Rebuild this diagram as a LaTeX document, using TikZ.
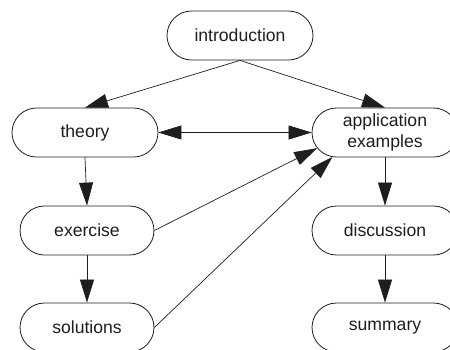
\documentclass[tikz,border=0pt]{standalone}
\usepackage{fontspec}
\setmainfont{Liberation Sans}
\usetikzlibrary{shapes.misc,arrows.meta}
\definecolor{ink}{HTML}{1E1E1E}
\tikzset{
  box/.style={rounded rectangle, draw=ink, line width=0.8pt, inner sep=0pt,
    minimum width=146pt, minimum height=49pt, text=ink, align=center,
    font=\fontsize{17.6pt}{21pt}\selectfont},
  narrowbox/.style={box, minimum width=134pt},
  link/.style={draw=ink, line width=0.7pt, -{Triangle[length=23pt,width=14pt]}},
  both/.style={link, {Triangle[length=23pt,width=14pt]}-{Triangle[length=23pt,width=14pt]}}
}
\begin{document}
\begin{tikzpicture}[x=1pt,y=-1pt]
\useasboundingbox (0,0) rectangle (450,349);
\clip (0,0) rectangle (450,349);
\node[box] (intro) at (240,35.5) {introduction};
\node[box] (theory) at (85,132.5) {theory};
\node[box] (app) at (385,132.5) {application\\examples};
\node[narrowbox] (exercise) at (87,230.5) {exercise};
\node[narrowbox] (solutions) at (87,327.5) {solutions};
\node[box] (discussion) at (385,230.5) {discussion};
\node[box] (summary) at (385,327.5) {summary};
\draw[link] (intro.south) -- (theory.north);
\draw[link] (intro.south) -- (app.north);
\draw[both] (theory.east) -- (app.west);
\draw[link] (theory.south) -- (exercise.north);
\draw[link] (exercise.south) -- (solutions.north);
\draw[link] (exercise.east) -- (app.193);
\draw[link] (solutions.east) -- (app.205);
\draw[link] (app.south) -- (discussion.north);
\draw[link] (discussion.south) -- (summary.north);
\end{tikzpicture}
\end{document}
